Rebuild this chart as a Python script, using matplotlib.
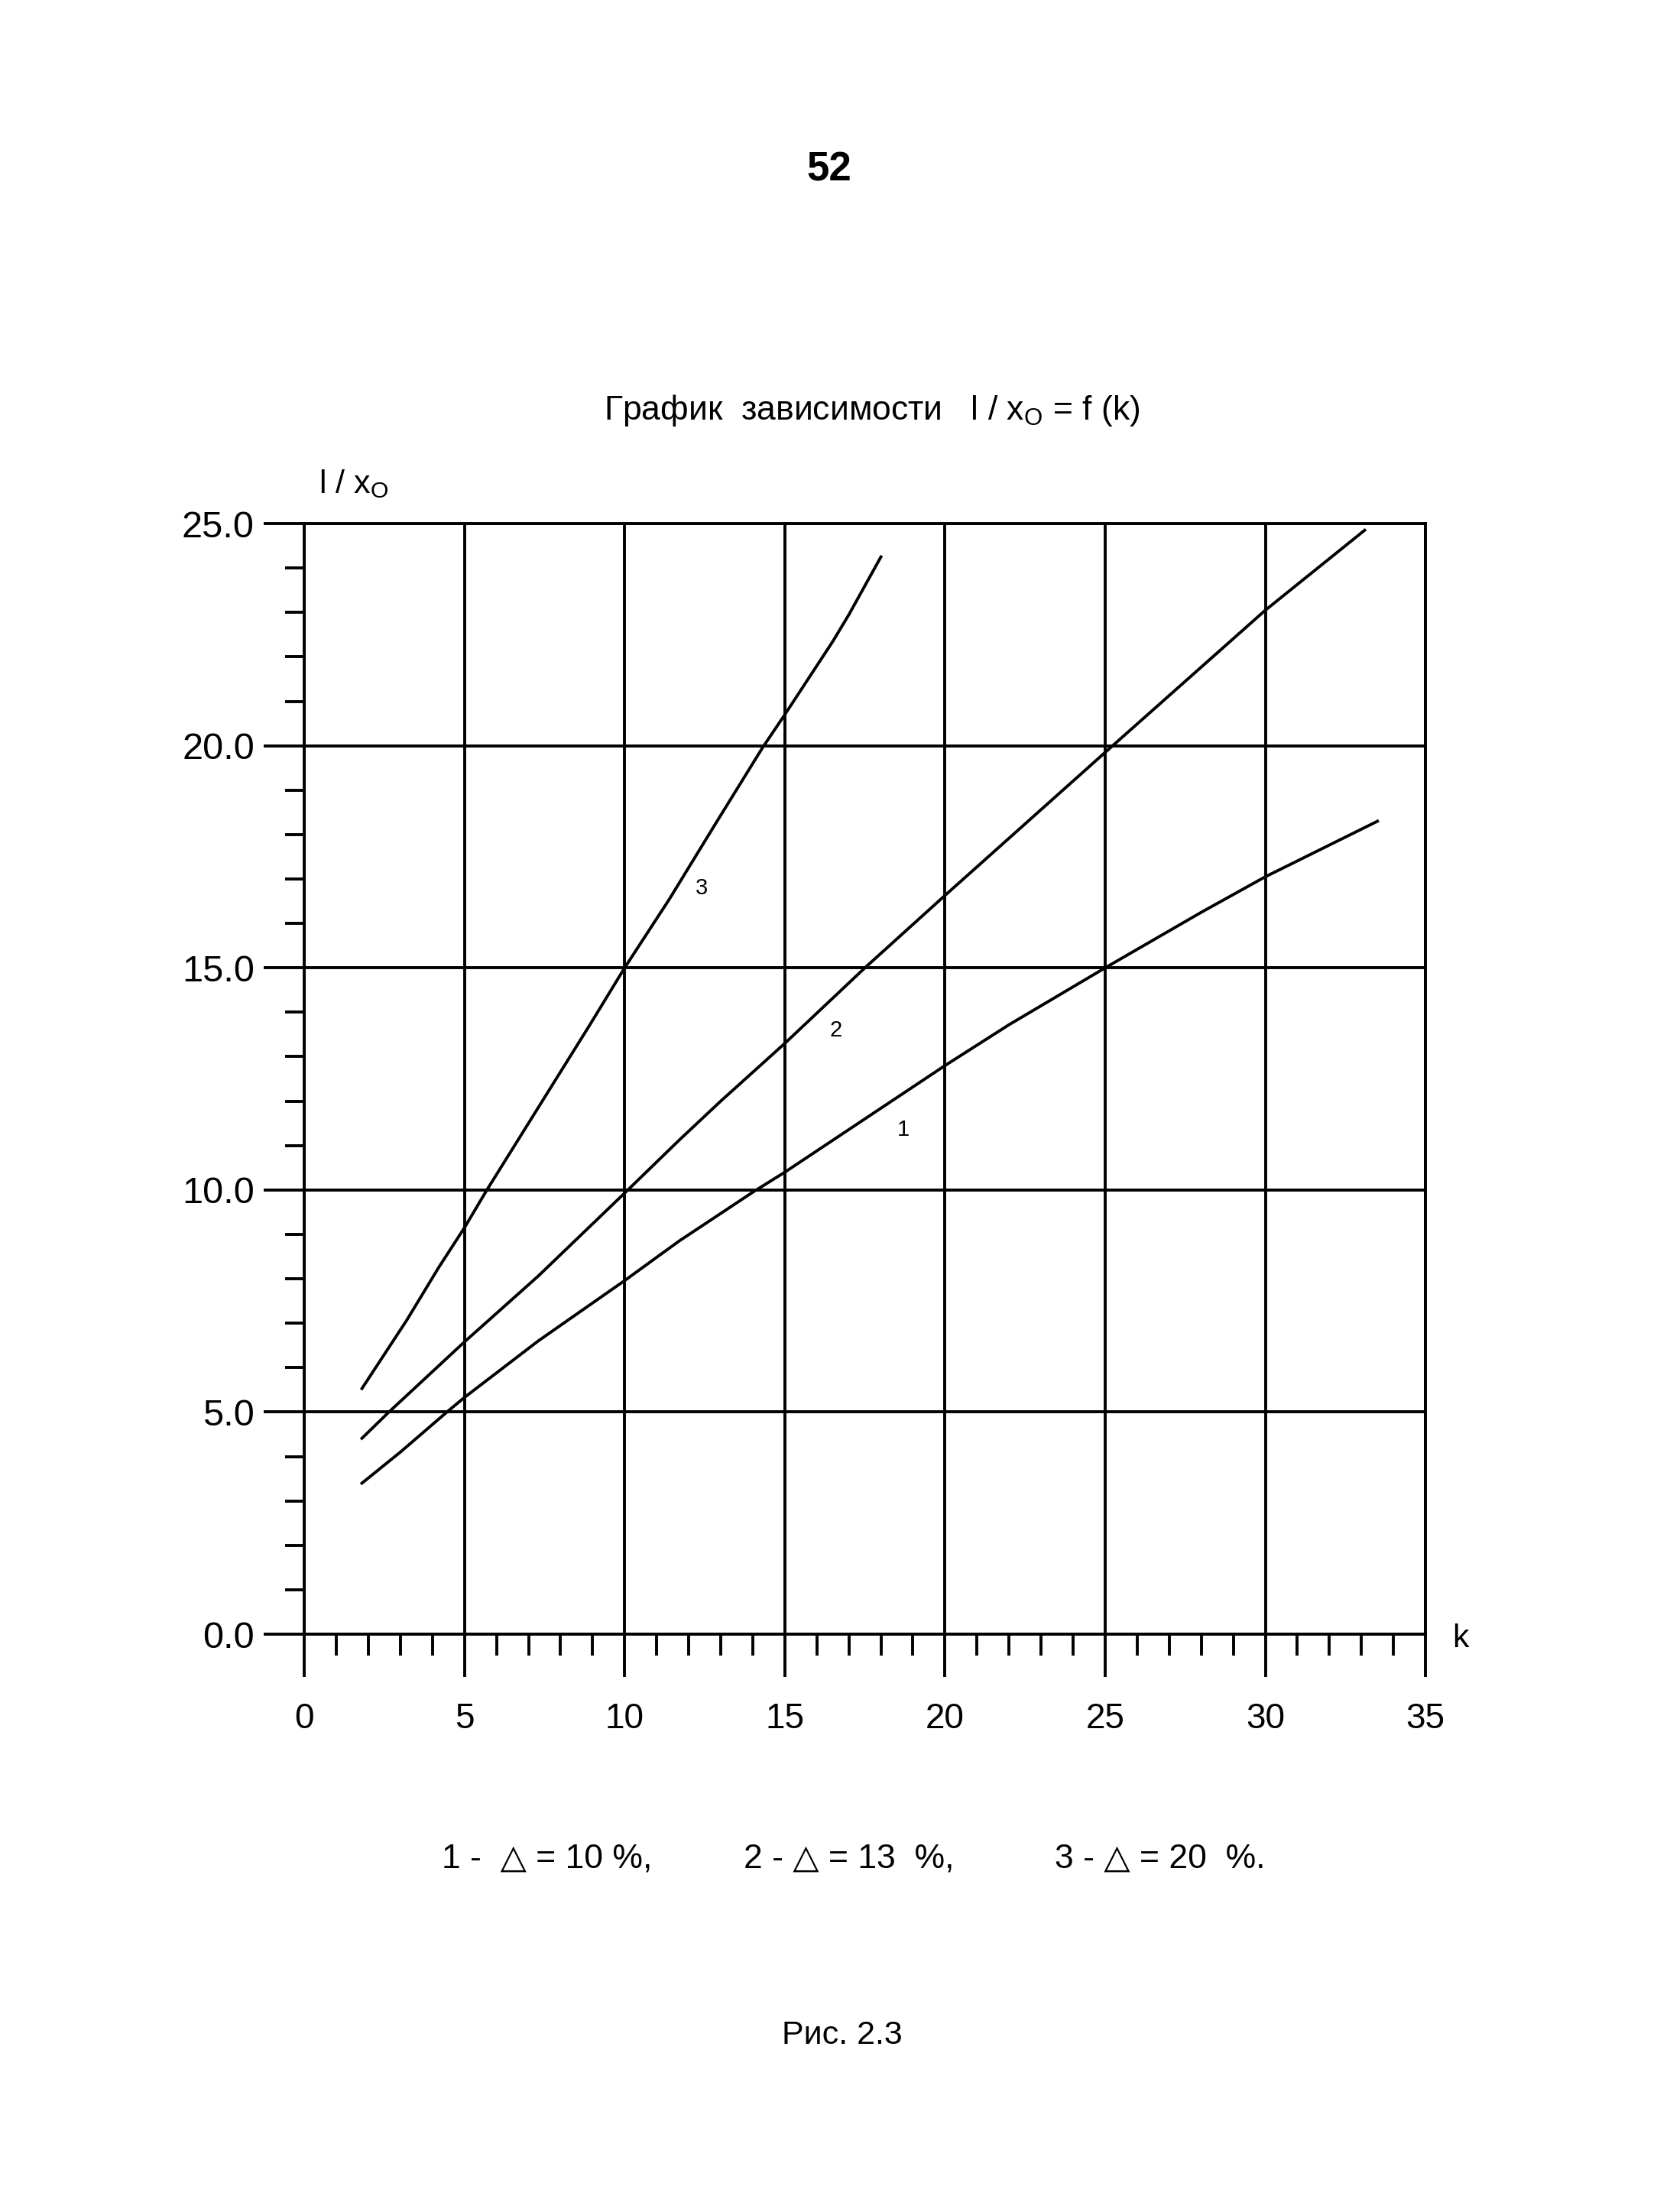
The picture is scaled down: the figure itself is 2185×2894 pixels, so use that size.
import numpy as np
import matplotlib
matplotlib.use("Agg")
import matplotlib.pyplot as plt
from matplotlib.ticker import MultipleLocator

#curves: k -> l / x_o
k1 = [1.8, 3.0, 4.45, 5.0, 7.3, 10.0, 11.7, 14.0, 15.0, 17.5, 20.0, 22.0, 25.0, 28.0, 30.0, 33.5]
y1 = [3.4, 4.1, 5.0, 5.33, 6.6, 7.96, 8.85, 9.95, 10.4, 11.6, 12.8, 13.72, 15.0, 16.25, 17.05, 18.3]

k2 = [1.8, 2.64, 5.0, 7.3, 10.0, 11.7, 13.0, 15.0, 17.5, 20.0, 25.0, 30.0, 33.1]
y2 = [4.41, 5.0, 6.58, 8.06, 9.93, 11.12, 12.0, 13.3, 15.0, 16.63, 19.85, 23.05, 24.85]

k3 = [1.8, 3.2, 4.2, 5.0, 5.7, 7.3, 8.9, 10.0, 11.4, 12.8, 14.3, 15.0, 16.5, 17.0, 18.0]
y3 = [5.53, 7.07, 8.26, 9.15, 10.0, 11.85, 13.7, 15.0, 16.55, 18.2, 19.95, 20.7, 22.35, 22.95, 24.25]

curve_names = ["1", "2", "3"]
curve_label_pos = [(18.7, 11.35), (16.6, 13.6), (12.4, 16.8)]
legend_items = ["1 -  \u25b3 = 10 %,", "2 - \u25b3 = 13  %,", "3 - \u25b3 = 20  %."]

x_ticks = np.arange(0, 36, 5)
y_ticks = np.arange(0, 26, 5)
x_labels = [str(v) for v in x_ticks]
y_labels = [f"{v:.1f}" for v in y_ticks]

FONT = ["Liberation Sans", "DejaVu Sans"]
LW = 2.8

plt.rcParams['font.family'] = FONT
plt.rcParams['mathtext.fontset'] = 'custom'
plt.rcParams['mathtext.rm'] = 'Liberation Sans'

fig = plt.figure(figsize=(21.85, 28.94), dpi=100)
ax = fig.add_axes([0.1822, 0.2612, 0.6714, 0.5021])

#curves
for kk, yy in [(k1, y1), (k2, y2), (k3, y3)]:
    ax.plot(kk, yy, color="black", lw=2.8)

for name, (px, py) in zip(curve_names, curve_label_pos):
    ax.text(px, py, name, fontsize=21, ha="center", va="center")

#axes and grid
ax.set_xlim(0, 35)
ax.set_ylim(0, 25)
ax.set_xticks(x_ticks)
ax.set_xticklabels(x_labels)
ax.set_yticks(y_ticks)
ax.set_yticklabels(y_labels)
ax.xaxis.set_minor_locator(MultipleLocator(1))
ax.yaxis.set_minor_locator(MultipleLocator(1))
ax.grid(True, which="major", color="black", lw=LW)
for sp in ax.spines.values():
    sp.set_linewidth(LW)

ax.tick_params(axis="x", which="major", direction="out", length=40, width=LW, pad=24, labelsize=33)
ax.tick_params(axis="x", which="minor", direction="out", length=20, width=LW)
ax.tick_params(axis="y", which="major", direction="out", length=38, width=LW, pad=9, labelsize=35)
ax.tick_params(axis="y", which="minor", direction="out", length=18, width=LW)

ax.text(36.1, -0.1, "k", fontsize=31, ha="center", va="center", clip_on=False)
ax.text(1.55, 25.9, r"l / $\mathregular{x_O}$", fontsize=31, ha="center", va="center", clip_on=False)

#page text
fig.text(0.4966, 0.923, "52", fontsize=38, fontweight="bold", ha="center", va="center")
fig.text(0.522, 0.8144, r"График  зависимости   l / $\mathregular{x_O}$ = f (k)",
         fontsize=32, ha="center", va="center")

legend_x = [0.2645, 0.4453, 0.6316]
for lx, item in zip(legend_x, legend_items):
    fig.text(lx, 0.1597, item, fontsize=32, ha="left", va="center")

fig.text(0.5043, 0.0798, "Рис. 2.3", fontsize=31, ha="center", va="center")

fig.savefig("out.png", dpi=100, facecolor="white")
